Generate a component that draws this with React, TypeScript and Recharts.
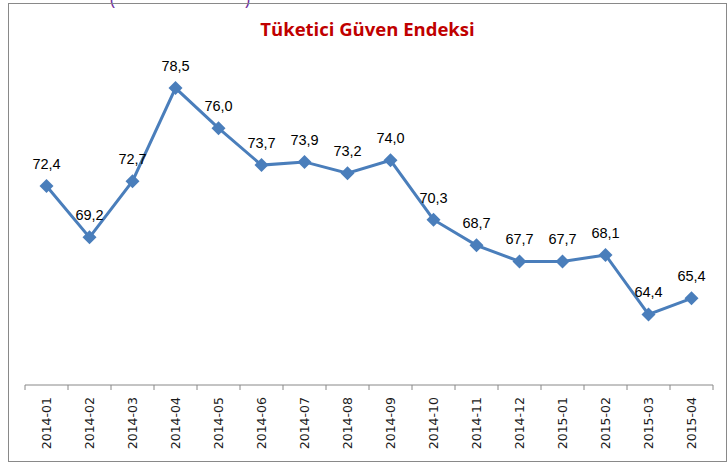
import { LineChart, Line, XAxis, YAxis, LabelList } from "recharts";

const months = [
  "2014-01", "2014-02", "2014-03", "2014-04", "2014-05", "2014-06", "2014-07", "2014-08",
  "2014-09", "2014-10", "2014-11", "2014-12", "2015-01", "2015-02", "2015-03", "2015-04",
];
const values = [72.4, 69.2, 72.7, 78.5, 76.0, 73.7, 73.9, 73.2, 74.0, 70.3, 68.7, 67.7, 67.7, 68.1, 64.4, 65.4];

const data = months.map((m, i) => ({ month: m, value: values[i] }));

const W = 719;
const H = 459;
const M = { top: 61, right: 14, left: 17, bottom: 0 };
const BAND = (W - M.left - M.right) / months.length;
const BLUE = "#4A7EBB";

const Diamond = (props: any) => {
  const { cx, cy, index } = props;
  if (cx == null || cy == null) return <g key={index} />;
  const r = 7;
  return (
    <path
      key={index}
      d={`M${cx},${cy - r}L${cx + r},${cy}L${cx},${cy + r}L${cx - r},${cy}Z`}
      fill={BLUE}
    />
  );
};

const MonthTick = (props: any) => {
  const { x, y, payload, index } = props;
  const last = index === months.length - 1;
  return (
    <g>
      <line x1={x - BAND / 2} x2={x - BAND / 2} y1={y} y2={y + 5} stroke="#888" />
      {last && <line x1={x + BAND / 2} x2={x + BAND / 2} y1={y} y2={y + 5} stroke="#888" />}
      <text
        transform={`translate(${x},${y + 12}) rotate(-90)`}
        textAnchor="end"
        dy="0.35em"
        fontFamily="DejaVu Sans"
        fontSize={12.5}
        fill="#1a1a1a"
      >
        {payload.value}
      </text>
    </g>
  );
};

export default function App() {
  return (
    <div style={{ position: "absolute", left: 8, top: 3, width: W, height: H }}>
      <div
        style={{
          position: "absolute",
          left: 102,
          top: -17,
          width: 140,
          color: "#7030A0",
          fontFamily: "Open Sans",
          fontSize: 18,
          display: "flex",
          justifyContent: "space-between",
        }}
      >
        <span>(</span>
        <span>)</span>
      </div>
      <div
        style={{
          position: "absolute",
          left: 0,
          top: 0,
          width: W - 2,
          height: H - 2,
          border: "1px solid #898989",
        }}
      />
      <div
        style={{
          position: "absolute",
          left: 0,
          width: W,
          top: 13,
          textAlign: "center",
          color: "#C00000",
          fontFamily: "Open Sans",
          fontWeight: 700,
          fontSize: 18.5,
        }}
      >
        Tüketici Güven Endeksi
      </div>
      <LineChart width={W} height={H} data={data} margin={M}>
        <YAxis hide domain={[60, 80]} />
        <XAxis
          dataKey="month"
          interval={0}
          padding={{ left: BAND / 2, right: BAND / 2 }}
          height={77}
          tickSize={0}
          tickMargin={0}
          stroke="#888"
          tick={<MonthTick />}
        />
        <Line
          type="linear"
          dataKey="value"
          stroke={BLUE}
          strokeWidth={3}
          dot={Diamond}
          activeDot={false}
          isAnimationActive={false}
        >
          <LabelList
            dataKey="value"
            position="top"
            offset={17}
            fontFamily="Liberation Sans"
            fontSize={14.5}
            fill="#000"
            formatter={(v: any) => Number(v).toFixed(1).replace(".", ",")}
          />
        </Line>
      </LineChart>
    </div>
  );
}
